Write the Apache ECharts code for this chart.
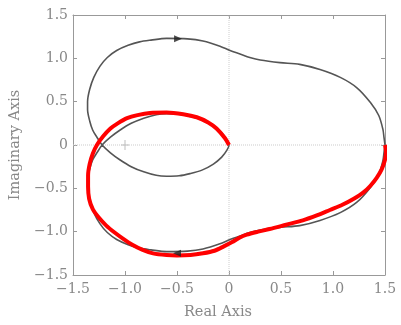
<!DOCTYPE html>
<html><head><meta charset="utf-8">
<script src="https://cdn.jsdelivr.net/npm/echarts@6/dist/echarts.min.js"></script>
<style>html,body{margin:0;padding:0;background:#fff}#c{width:401px;height:325px}</style>
</head><body><div id="c"></div>
<script>
// Positive-frequency branch (gray), from (1.5,0) to the origin
const grayUpperX = [1.5,1.49,1.48,1.44,1.36,1.23,1.07,0.875,0.68,0.49,0.30,0.2,0.106,0.01,-0.087,-0.25,-0.4,-0.6,-0.75,-0.86,-0.97,-1.08,-1.17,-1.24,-1.3,-1.34,-1.36,-1.36,-1.34,-1.31,-1.27,-1.22,-1.14,-1.05,-0.94,-0.82,-0.7,-0.6,-0.48,-0.375,-0.26,-0.15,-0.07,-0.02,0];
const grayUpperY = [0,0.09,0.18,0.34,0.49,0.66,0.78,0.87,0.93,0.95,0.98,1.01,1.05,1.09,1.14,1.20,1.225,1.23,1.21,1.19,1.15,1.09,1.01,0.91,0.78,0.64,0.5,0.41,0.28,0.17,0.09,0.0,-0.09,-0.17,-0.25,-0.31,-0.35,-0.36,-0.355,-0.33,-0.29,-0.22,-0.14,-0.06,0];
// Red curve (negative-frequency branch), from origin to (1.5,0)
const redX = [0,-0.04,-0.12,-0.2,-0.31,-0.44,-0.6,-0.76,-0.88,-0.98,-1.07,-1.14,-1.21,-1.27,-1.31,-1.34,-1.355,-1.355,-1.345,-1.31,-1.25,-1.18,-1.1,-1.02,-0.93,-0.83,-0.73,-0.6,-0.5,-0.37,-0.25,-0.14,-0.05,0.03,0.1,0.17,0.28,0.39,0.55,0.71,0.85,0.97,1.09,1.2,1.29,1.36,1.42,1.47,1.5,1.51,1.5];
const redY = [0,0.08,0.19,0.26,0.32,0.355,0.375,0.37,0.345,0.31,0.25,0.19,0.1,0.0,-0.1,-0.22,-0.35,-0.48,-0.62,-0.74,-0.84,-0.93,-1.01,-1.08,-1.15,-1.21,-1.25,-1.27,-1.275,-1.27,-1.25,-1.22,-1.17,-1.12,-1.07,-1.035,-1.0,-0.97,-0.92,-0.87,-0.81,-0.75,-0.69,-0.62,-0.55,-0.47,-0.38,-0.275,-0.17,-0.08,0];
// Direction arrows [x, y, rotation]
const arrowPts = [[-0.49,1.225,0],[-0.5,-1.25,180]];
const criticalPt = [-1,0];

const grayData = [];
for (let i=0;i<grayUpperX.length;i++) grayData.push([grayUpperX[i],grayUpperY[i]]);
for (let i=grayUpperX.length-2;i>=0;i--) grayData.push([grayUpperX[i],-grayUpperY[i]]);
const redData = redX.map((x,i)=>[x,redY[i]]);

const fmt = v => { if (Math.abs(v)<1e-9) return '0'; const s=Math.abs(v).toFixed(1); return (v<0?'\u2212':'')+s; };
const font = 'DejaVu Serif';
const axisCommon = {
  type:'value', min:-1.5, max:1.5, interval:0.5,
  axisLine:{show:true,onZero:false,lineStyle:{color:'#999',width:1}},
  axisTick:{show:true,inside:true,length:4,lineStyle:{color:'#999'}},
  splitLine:{show:false}
};
const chart = echarts.init(document.getElementById('c'));
chart.setOption({
  animation:false,
  grid:{left:73,right:16,top:15,bottom:48},
  xAxis:[
    Object.assign({},axisCommon,{position:'bottom',
      axisLabel:{formatter:fmt,color:'#888',fontFamily:font,fontSize:14,margin:7},
      name:'Real Axis',nameLocation:'middle',nameGap:30,
      nameTextStyle:{color:'#888',fontFamily:font,fontSize:14.5,padding:[0,22,0,0]}}),
    Object.assign({},axisCommon,{position:'top',axisLabel:{show:false}})
  ],
  yAxis:[
    Object.assign({},axisCommon,{position:'left',
      axisLabel:{formatter:fmt,color:'#888',fontFamily:font,fontSize:14,margin:5},
      name:'Imaginary Axis',nameLocation:'middle',nameGap:44,
      nameTextStyle:{color:'#888',fontFamily:font,fontSize:14.5}}),
    Object.assign({},axisCommon,{position:'right',axisLabel:{show:false}})
  ],
  series:[
    {type:'line',data:[[0,-1.5],[0,1.5]],showSymbol:false,silent:true,
      lineStyle:{color:'#ccc',width:1,type:'dotted'}},
    {type:'line',data:[[-1.5,0],[1.5,0]],showSymbol:false,silent:true,
      lineStyle:{color:'#ccc',width:1,type:'dotted'}},
    {type:'scatter',data:[criticalPt],symbol:'path://M4.4,0 H5.6 V10 H4.4 Z M0,4.4 H10 V5.6 H0 Z',
      symbolSize:[8,10],itemStyle:{color:'#aaa'},silent:true},
    {type:'line',data:grayData,showSymbol:false,smooth:0.3,smoothConstraint:false,
      lineStyle:{color:'#555',width:1.6}},
    {type:'line',data:redData,showSymbol:false,smooth:0.3,smoothConstraint:false,
      lineStyle:{color:'#ff0000',width:4}},
    {type:'scatter',data:arrowPts.map(p=>({value:[p[0],p[1]],symbolRotate:p[2]})),
      symbol:'path://M0,0 L10,5 L0,10 Z',symbolSize:[8,7],itemStyle:{color:'#222'},z:10}
  ]
});
</script></body></html>
